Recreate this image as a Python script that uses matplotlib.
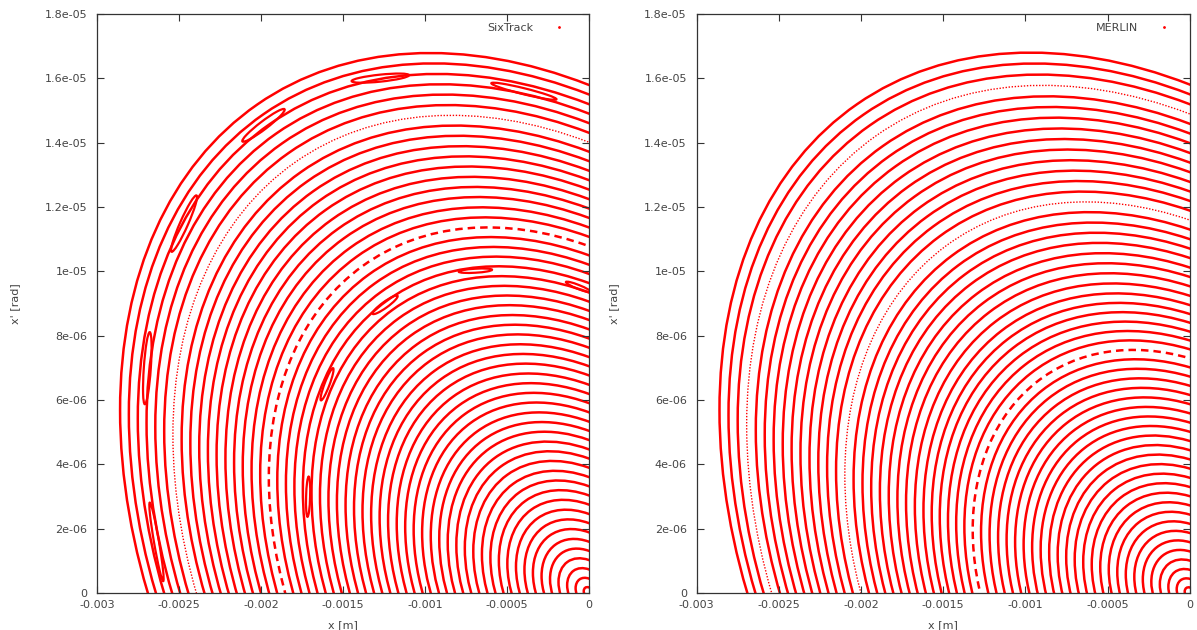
import numpy as np
import matplotlib
matplotlib.use('Agg')
import matplotlib.pyplot as plt
from matplotlib.patches import Circle, Ellipse
from matplotlib.transforms import Affine2D
from matplotlib.lines import Line2D

# axis ticks
x_ticks = [-0.003, -0.0025, -0.002, -0.0015, -0.001, -0.0005, 0]
x_tick_labels = ['-0.003', '-0.0025', '-0.002', '-0.0015', '-0.001', '-0.0005', '0']
y_ticks = [0, 2e-06, 4e-06, 6e-06, 8e-06, 1e-05, 1.2e-05, 1.4e-05, 1.6e-05, 1.8e-05]
y_tick_labels = ['0', '2e-06', '4e-06', '6e-06', '8e-06', '1e-05', '1.2e-05', '1.4e-05', '1.6e-05', '1.8e-05']

# x where each tracked orbit crosses x' = 0, outermost first
sixtrack_x0 = [-2.690e-3, -2.641e-3, -2.591e-3, -2.542e-3, -2.493e-3, -2.443e-3, -2.394e-3,
               -2.345e-3, -2.296e-3, -2.246e-3, -2.197e-3, -2.148e-3, -2.098e-3, -2.049e-3,
               -2.000e-3, -1.950e-3, -1.901e-3, -1.852e-3, -1.803e-3, -1.753e-3, -1.704e-3,
               -1.655e-3, -1.605e-3, -1.556e-3, -1.507e-3, -1.458e-3, -1.408e-3, -1.359e-3,
               -1.310e-3, -1.260e-3, -1.211e-3, -1.162e-3, -1.112e-3, -1.063e-3, -1.014e-3,
               -0.965e-3, -0.915e-3, -0.866e-3, -0.817e-3, -0.767e-3, -0.718e-3, -0.669e-3,
               -0.619e-3, -0.570e-3, -0.521e-3, -0.472e-3, -0.422e-3, -0.373e-3, -0.324e-3,
               -0.274e-3, -0.225e-3, -0.176e-3, -0.126e-3, -0.077e-3, -0.030e-3]
merlin_x0 = [-2.692e-3, -2.643e-3, -2.593e-3, -2.544e-3, -2.494e-3, -2.445e-3, -2.396e-3,
             -2.346e-3, -2.297e-3, -2.248e-3, -2.198e-3, -2.149e-3, -2.100e-3, -2.050e-3,
             -2.001e-3, -1.952e-3, -1.902e-3, -1.853e-3, -1.804e-3, -1.754e-3, -1.705e-3,
             -1.656e-3, -1.606e-3, -1.557e-3, -1.510e-3, -1.464e-3, -1.417e-3, -1.370e-3,
             -1.323e-3, -1.275e-3, -1.226e-3, -1.176e-3, -1.126e-3, -1.076e-3, -1.026e-3,
             -0.976e-3, -0.926e-3, -0.876e-3, -0.826e-3, -0.776e-3, -0.726e-3, -0.676e-3,
             -0.626e-3, -0.576e-3, -0.526e-3, -0.476e-3, -0.426e-3, -0.376e-3, -0.326e-3,
             -0.276e-3, -0.226e-3, -0.176e-3, -0.126e-3, -0.077e-3, -0.030e-3]

# orbit shape: beta [m], and alpha read at two orbits (|x0| of the dashed and outermost orbit)
sixtrack_beta = 181.0
sixtrack_alpha_x0 = [1.852e-3, 2.690e-3]
sixtrack_alpha = [0.333, 0.360]
merlin_beta = 181.0
merlin_alpha_x0 = [1.275e-3, 2.692e-3]
merlin_alpha = [0.27, 0.36]

# SixTrack resonance islands: tip 1, tip 2 (data coords)
island_x1 = [-0.001447, -0.000595, -0.002113, -0.002545, -0.002708, -0.002678,
             -0.000794, -0.000140, -0.001319, -0.001634, -0.001716]
island_y1 = [1.5915e-05, 1.585e-05, 1.404e-05, 1.061e-05, 5.87e-06, 2.81e-06,
             9.99e-06, 9.67e-06, 8.68e-06, 5.99e-06, 2.37e-06]
island_x2 = [-0.001097, -0.000198, -0.001856, -0.002393, -0.002678, -0.002596,
             -0.000591, 0.000012, -0.001167, -0.001560, -0.001709]
island_y2 = [1.610e-05, 1.535e-05, 1.504e-05, 1.236e-05, 8.11e-06, 3.7e-07,
             1.005e-05, 9.36e-06, 9.24e-06, 6.99e-06, 3.62e-06]
island_w = [7, 6, 8, 8, 7, 5, 4, 4, 6, 5, 4]  # island thickness, px

TXT = '#444444'
RED = '#ff0000'

fig = plt.figure(figsize=(11.97, 6.3), dpi=100)
ax1 = fig.add_axes([0.081, 0.0587, 0.411, 0.919])
ax2 = fig.add_axes([0.582, 0.0587, 0.412, 0.919])


def draw_orbits(ax, x0s, beta, a_x0, a_val, dashed, dotted):
    sb = np.sqrt(beta)
    for i, x0 in enumerate(x0s):
        alpha = np.interp(abs(x0), a_x0, a_val)
        gamma = (1 + alpha ** 2) / beta
        # normalised phase space -> (x, x')
        M = Affine2D(np.array([[sb, 0, 0], [-alpha / sb, 1 / sb, 0], [0, 0, 1]]))
        r = abs(x0) * np.sqrt(gamma)
        if i in dashed:
            kw = dict(lw=1.8, ls=(0, (3, 2)))
        elif i in dotted:
            kw = dict(lw=1.0, ls=(0, (1, 1.2)))
        else:
            kw = dict(lw=1.8, ls='-')
        ax.add_patch(Circle((0, 0), r, fill=False, ec=RED, transform=M + ax.transData, **kw))


def style_axes(ax, name, legend_x):
    ax.set_xlim(-0.003, 0)
    ax.set_ylim(0, 1.8e-05)
    ax.xaxis.set_major_locator(matplotlib.ticker.FixedLocator(x_ticks))
    ax.xaxis.set_major_formatter(matplotlib.ticker.FixedFormatter(x_tick_labels))
    ax.yaxis.set_major_locator(matplotlib.ticker.FixedLocator(y_ticks))
    ax.yaxis.set_major_formatter(matplotlib.ticker.FixedFormatter(y_tick_labels))
    ax.tick_params(direction='in', top=True, right=True, length=5, width=0.8,
                   color='#333333', labelcolor=TXT, labelsize=8)
    ax.tick_params(axis='y', pad=7)
    ax.tick_params(axis='x', pad=5)
    for s in ax.spines.values():
        s.set_color('#333333')
        s.set_linewidth(0.9)
    ax.set_xlabel('x [m]', fontsize=8, color=TXT)
    ax.set_ylabel("x' [rad]", fontsize=8, color=TXT)
    ax.xaxis.set_label_coords(0.5, -0.046)
    ax.yaxis.set_label_coords(-0.157, 0.5)
    h = Line2D([], [], ls='none', marker='.', ms=2, color=RED)
    ax.legend([h], [name], loc='upper right', bbox_to_anchor=(legend_x, 0.985),
              markerfirst=False, frameon=False, fontsize=8, borderpad=0,
              borderaxespad=0, handletextpad=1.35, labelcolor=TXT)


style_axes(ax1, 'SixTrack', 0.962)
style_axes(ax2, 'MERLIN', 0.970)

draw_orbits(ax1, sixtrack_x0, sixtrack_beta, sixtrack_alpha_x0, sixtrack_alpha,
            dashed=[17], dotted=[6])
draw_orbits(ax2, merlin_x0, merlin_beta, merlin_alpha_x0, merlin_alpha,
            dashed=[29], dotted=[3, 14])

# islands of the SixTrack panel, drawn in pixel-equal units
sx = ax1.bbox.width / 0.003
sy = ax1.bbox.height / 1.8e-05
to_data = Affine2D().scale(1 / sx, 1 / sy) + ax1.transData
for x1, y1, x2, y2, w in zip(island_x1, island_y1, island_x2, island_y2, island_w):
    p1 = np.array([x1 * sx, y1 * sy])
    p2 = np.array([x2 * sx, y2 * sy])
    c = (p1 + p2) / 2
    d = p2 - p1
    ax1.add_patch(Ellipse(c, np.hypot(*d), w, angle=np.degrees(np.arctan2(d[1], d[0])),
                          fill=False, ec=RED, lw=1.6, transform=to_data))

fig.savefig('out.png', dpi=100, facecolor='white')
